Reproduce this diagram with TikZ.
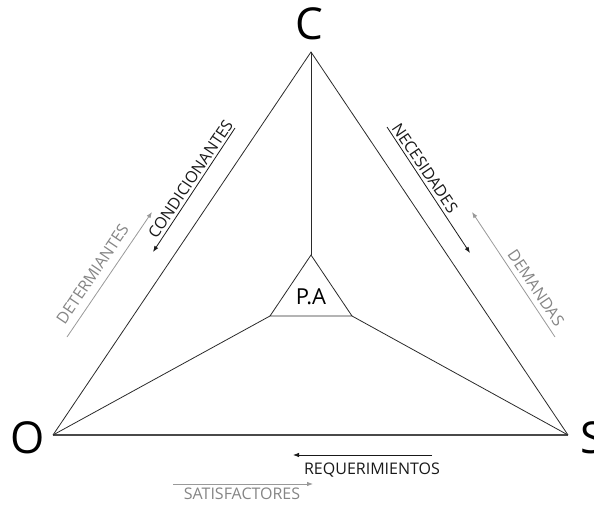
\documentclass[tikz,border=0pt]{standalone}
\usepackage{fontspec}
\setmainfont{Open Sans}
\usetikzlibrary{arrows.meta}
\definecolor{edge}{HTML}{2A2A2A}
\definecolor{lgray}{HTML}{999999}
\definecolor{tgray}{HTML}{858585}
\begin{document}
\begin{tikzpicture}[x=1pt,y=1pt,
  edgeline/.style={draw=edge,line width=0.8pt},
  darrow/.style={draw=black!90,line width=0.8pt,-{Latex[length=6pt,width=4.5pt]}},
  garrow/.style={draw=lgray,line width=0.8pt,-{Latex[length=6pt,width=4.5pt]}},
  vlabel/.style={font=\fontsize{44}{44}\selectfont,inner sep=0pt},
  dlabel/.style={font=\fontsize{16}{16}\selectfont,text=black!90,inner sep=0pt},
  glabel/.style={font=\fontsize{16}{16}\selectfont,text=tgray,inner sep=0pt}]
\useasboundingbox (0,0) rectangle (594,504);
% vertices
\coordinate (C) at (311,452);
\coordinate (O) at (53,69);
\coordinate (S) at (568,69);
\coordinate (I1) at (311,249);
\coordinate (I2) at (270,188);
\coordinate (I3) at (352,188);
% outer triangle
\draw[edgeline] (O) -- (C) -- (S);
\draw[draw=edge!85,line width=1.4pt] (O) -- (S);
% inner triangle and spokes
\draw[edgeline] (I1) -- (I2) -- (I3) -- cycle;
\draw[edgeline] (C) -- (I1);
\draw[edgeline] (O) -- (I2);
\draw[edgeline] (S) -- (I3);
% labels
\node[vlabel] (lC) at (309,480) {C};
\node[vlabel] (lO) at (28,66) {O};
\node[vlabel,anchor=west] (lS) at (580,66) {S};
\node[font=\fontsize{22}{22}\selectfont,inner sep=0pt] (PA) at (311,207) {P.A};
% left side
\coordinate (a1s) at (235,376);
\coordinate (a1e) at (153,252);
\draw[darrow] (a1s) -- (a1e);
\node[dlabel,rotate=56] (cond) at (190.5,325) {CONDICIONANTES};
\coordinate (a2s) at (67,167);
\coordinate (a2e) at (152,292);
\draw[garrow] (a2s) -- (a2e);
\node[glabel,rotate=56] (det) at (92.5,230) {DETERMIANTES};
% right side
\coordinate (a3s) at (387,377);
\coordinate (a3e) at (470,251);
\draw[darrow] (a3s) -- (a3e);
\node[dlabel,rotate=-56] (nec) at (425,336) {NECESIDADES};
\coordinate (a4s) at (555,167);
\coordinate (a4e) at (472,292);
\draw[garrow] (a4s) -- (a4e);
\node[glabel,rotate=-56] (dem) at (536,216) {DEMANDAS};
% bottom
\coordinate (a5s) at (432,49);
\coordinate (a5e) at (293,49);
\draw[darrow] (a5s) -- (a5e);
\node[dlabel] (req) at (372,34) {REQUERIMIENTOS};
\coordinate (a6s) at (173,20);
\coordinate (a6e) at (313,20);
\draw[garrow] (a6s) -- (a6e);
\node[glabel] (sat) at (242,10) {SATISFACTORES};
\end{tikzpicture}
\end{document}
